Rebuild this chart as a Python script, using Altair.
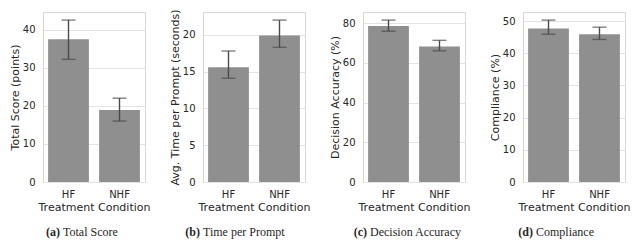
import altair as alt
import pandas as pd

conditions = ["HF", "NHF"]

score_mean = [37.5, 18.9]
score_lo = [32.2, 16.0]
score_hi = [42.5, 22.0]

time_mean = [15.6, 19.9]
time_lo = [14.1, 18.3]
time_hi = [17.8, 22.0]

acc_mean = [78.6, 68.3]
acc_lo = [76.0, 66.1]
acc_hi = [81.6, 71.4]

comp_mean = [47.7, 45.9]
comp_lo = [45.9, 44.3]
comp_hi = [50.3, 48.1]

panels = [
    ("Total Score (points)", score_mean, score_lo, score_hi, [0, 10, 20, 30, 40], "(a)", "Total Score", 20),
    ("Avg. Time per Prompt (seconds)", time_mean, time_lo, time_hi, [0, 5, 10, 15, 20], "(b)", "Time per Prompt", 0),
    ("Decision Accuracy (%)", acc_mean, acc_lo, acc_hi, [0, 20, 40, 60, 80], "(c)", "Decision Accuracy", 7),
    ("Compliance (%)", comp_mean, comp_lo, comp_hi, [0, 10, 20, 30, 40, 50], "(d)", "Compliance", 13),
]

W = 102
H = 170
TEXT = "#262626"
BAR = "#8f8f8f"
ERR = "#4a4a4a"


def panel(ytitle, mean, lo, hi, ticks, tag, caption, cap_x):
    df = pd.DataFrame({"cond": conditions, "mean": mean, "lo": lo, "hi": hi})
    top = max(hi) * 1.05
    xscale = alt.Scale(paddingInner=0.2, paddingOuter=0.1)
    xaxis = alt.Axis(
        title="Treatment Condition", labelAngle=0, ticks=False, domain=False,
        grid=False, labelPadding=7, titlePadding=2,
    )
    x = alt.X("cond:N", sort=conditions, scale=xscale, axis=xaxis)
    yscale = alt.Scale(domain=[0, top], nice=False, zero=True)
    yaxis = alt.Axis(
        title=ytitle, values=ticks, ticks=False, domain=False, grid=True,
        gridColor="#e3e3e3", labelPadding=8, titlePadding=2,
        labelOverlap=False, labelFlush=False,
    )
    base = alt.Chart(df)
    bars = base.mark_bar(color=BAR).encode(
        x=x, y=alt.Y("mean:Q", scale=yscale, axis=yaxis)
    )
    rule = base.mark_rule(color=ERR, strokeWidth=1.4).encode(
        x=x, y=alt.Y("lo:Q", scale=yscale, axis=yaxis), y2="hi:Q"
    )
    cap_lo = base.mark_tick(color=ERR, size=14, thickness=1.4, orient="horizontal").encode(
        x=x, y=alt.Y("lo:Q", scale=yscale, axis=yaxis)
    )
    cap_hi = base.mark_tick(color=ERR, size=14, thickness=1.4, orient="horizontal").encode(
        x=x, y=alt.Y("hi:Q", scale=yscale, axis=yaxis)
    )
    capdf = pd.DataFrame({"tag": [tag], "cap": [caption]})
    capbase = alt.Chart(capdf)
    t1 = capbase.mark_text(
        align="right", baseline="alphabetic", font="Liberation Serif", fontSize=12,
        fontWeight="bold", color=TEXT,
    ).encode(x=alt.value(cap_x - 3), y=alt.value(H + 54), text="tag:N")
    t2 = capbase.mark_text(
        align="left", baseline="alphabetic", font="Liberation Serif", fontSize=12,
        color=TEXT,
    ).encode(x=alt.value(cap_x), y=alt.value(H + 54), text="cap:N")
    return alt.layer(bars, rule, cap_lo, cap_hi, t1, t2).properties(width=W, height=H)


charts = [panel(*p) for p in panels]

chart = (
    alt.hconcat(*charts, spacing=17)
    .properties(padding=0)
    .configure_view(stroke="#d6d6d6", strokeWidth=1)
    .configure_axis(
        labelFont="DejaVu Sans", titleFont="DejaVu Sans", labelFontSize=10,
        titleFontSize=11, titleFontWeight="normal", labelColor=TEXT, titleColor=TEXT,
    )
)

chart.save("out.html", embed_options={"renderer": "svg", "actions": False})
